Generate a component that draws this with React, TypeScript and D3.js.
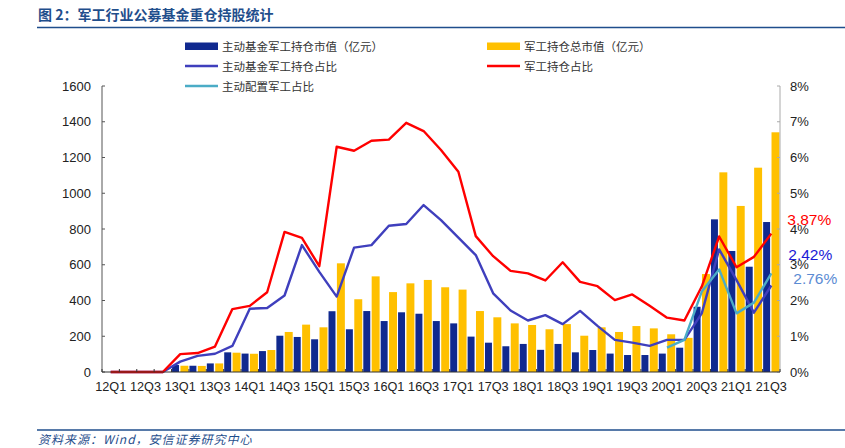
import React, { useEffect, useRef } from 'react';
import * as d3 from 'd3';

// 季度
const quarters = [
  '12Q1', '12Q2', '12Q3', '12Q4', '13Q1', '13Q2', '13Q3', '13Q4',
  '14Q1', '14Q2', '14Q3', '14Q4', '15Q1', '15Q2', '15Q3', '15Q4',
  '16Q1', '16Q2', '16Q3', '16Q4', '17Q1', '17Q2', '17Q3', '17Q4',
  '18Q1', '18Q2', '18Q3', '18Q4', '19Q1', '19Q2', '19Q3', '19Q4',
  '20Q1', '20Q2', '20Q3', '20Q4', '21Q1', '21Q2', '21Q3'
];

// 主动基金军工持仓市值（亿元）
const fundValue = [
  0, 0, 0, 0, 39, 35, 48, 110,
  103, 117, 203, 196, 183, 340, 239, 341,
  285, 334, 326, 285, 272, 198, 164, 144,
  157, 124, 157, 110, 123, 103, 95, 95,
  103, 136, 365, 854, 677, 589, 839
];

// 军工持仓总市值（亿元）
const totalValue = [
  0, 0, 0, 0, 35, 34, 48, 108,
  102, 123, 224, 265, 250, 608, 407, 535,
  447, 496, 515, 474, 461, 341, 306, 272,
  263, 239, 268, 203, 250, 224, 257, 244,
  211, 191, 548, 1117, 929, 1143, 1341
];

// 主动基金军工持仓占比（%）
const fundRatio = [
  0, 0, 0, 0, 0.29, 0.45, 0.51, 0.73,
  1.77, 1.79, 2.14, 3.55, 2.8, 2.11, 3.48, 3.55,
  4.09, 4.14, 4.67, 4.25, 3.76, 3.27, 2.2, 1.72,
  1.44, 1.59, 1.34, 1.71, 1.29, 0.9, 0.82, 0.73,
  0.9, 0.9, 1.64, 3.43, 2.57, 1.66, 2.42
];

// 军工持仓占比（%）
const totalRatio = [
  0, 0, 0, 0, 0.5, 0.53, 0.71, 1.76,
  1.85, 2.23, 3.92, 3.75, 2.96, 6.3, 6.19, 6.47,
  6.5, 6.97, 6.74, 6.21, 5.6, 3.8, 3.24, 2.83,
  2.76, 2.56, 3.07, 2.52, 2.4, 2.01, 2.17, 1.85,
  1.52, 1.44, 2.39, 3.79, 2.93, 3.22, 3.87
];

// 主动配置军工占比（%），20Q1 起
const activeRatio: (number | null)[] = [
  null, null, null, null, null, null, null, null,
  null, null, null, null, null, null, null, null,
  null, null, null, null, null, null, null, null,
  null, null, null, null, null, null, null, null,
  0.68, 0.9, 2.25, 2.87, 1.64, 1.94, 2.76
];

const xLabels = quarters.filter((_, i) => i % 2 === 0);
const leftTicks = [0, 200, 400, 600, 800, 1000, 1200, 1400, 1600];
const rightTicks = [0, 1, 2, 3, 4, 5, 6, 7, 8];

// 末端标注（相对最后一点的偏移）
const endLabels = [
  { text: '3.87%', value: 3.87, color: '#FF0000', dx: 16, dy: -9 },
  { text: '2.42%', value: 2.42, color: '#1A1AD6', dx: 17, dy: -25.5 },
  { text: '2.76%', value: 2.76, color: '#5B8BD3', dx: 22, dy: 11 }
];

const App: React.FC = () => {
  const svgRef = useRef<SVGSVGElement>(null);

  useEffect(() => {
    if (!svgRef.current) return;
    const svg = d3.select(svgRef.current);
    svg.selectAll('*').remove();

    const width = 845;
    const height = 448;
    const plot = { left: 102, right: 780, top: 86, bottom: 372 };
    const numFont = '"Liberation Sans", Arial, sans-serif';
    const cjkFont = '"Noto Sans CJK SC", sans-serif';

    svg.attr('width', width).attr('height', height);
    svg.append('rect').attr('width', width).attr('height', height).attr('fill', '#fff');

    // 标题
    svg.append('text')
      .attr('x', 38).attr('y', 20)
      .attr('font-family', cjkFont).attr('font-size', 14).attr('font-weight', 700)
      .attr('fill', '#1F4E8C')
      .text('图 2：军工行业公募基金重仓持股统计');
    svg.append('line')
      .attr('x1', 37).attr('x2', width).attr('y1', 27.5).attr('y2', 27.5)
      .attr('stroke', '#1F4E8C').attr('stroke-width', 1.5);

    // 比例尺
    const x = d3.scaleBand<string>().domain(quarters).range([plot.left, plot.right])
      .paddingInner(0.06).paddingOuter(0.03);
    const sub = d3.scaleBand<string>().domain(['fund', 'total']).range([0, x.bandwidth()]).paddingInner(0.05);
    const step = x.step();
    const cx = (i: number) => (x(quarters[i]) as number) + x.bandwidth() / 2;
    const yL = d3.scaleLinear().domain([0, 1600]).range([plot.bottom, plot.top]);
    const yR = d3.scaleLinear().domain([0, 8]).range([plot.bottom, plot.top]);

    // 柱子
    const g = svg.append('g');
    g.selectAll('.bar-fund')
      .data(fundValue)
      .enter().append('rect')
      .attr('x', (_, i) => (x(quarters[i]) as number) + (sub('fund') as number))
      .attr('width', sub.bandwidth() - 1)
      .attr('y', d => yL(d))
      .attr('height', d => plot.bottom - yL(d))
      .attr('fill', '#10298F');
    g.selectAll('.bar-total')
      .data(totalValue)
      .enter().append('rect')
      .attr('x', (_, i) => (x(quarters[i]) as number) + (sub('total') as number))
      .attr('width', sub.bandwidth())
      .attr('y', d => yL(d))
      .attr('height', d => plot.bottom - yL(d))
      .attr('fill', '#FFC000');

    // 折线
    const line = d3.line<number | null>()
      .defined(d => d != null)
      .x((_, i) => cx(i))
      .y(d => yR(d as number));
    const series = [
      { data: fundRatio, color: '#3F3FBD' },
      { data: totalRatio, color: '#FF0000' },
      { data: activeRatio, color: '#4BACC6' }
    ];
    series.forEach(s => {
      g.append('path')
        .attr('d', line(s.data) as string)
        .attr('fill', 'none')
        .attr('stroke', s.color)
        .attr('stroke-width', 2.4)
        .attr('stroke-linejoin', 'round');
    });

    // 坐标轴
    const axisG = svg.append('g');
    axisG.append('line')
      .attr('x1', plot.left).attr('x2', plot.left).attr('y1', plot.top).attr('y2', plot.bottom)
      .attr('stroke', '#555').attr('stroke-width', 1);
    axisG.selectAll('.lt').data(leftTicks).enter().append('line')
      .attr('x1', plot.left).attr('x2', plot.left + 3)
      .attr('y1', d => yL(d)).attr('y2', d => yL(d))
      .attr('stroke', '#555');
    axisG.selectAll('.ll').data(leftTicks).enter().append('text')
      .attr('x', 91).attr('y', d => yL(d) + 4.5)
      .attr('text-anchor', 'end')
      .attr('font-family', numFont).attr('font-size', 13).attr('fill', '#222')
      .text(d => String(d));

    axisG.append('line')
      .attr('x1', plot.right).attr('x2', plot.right).attr('y1', plot.top).attr('y2', plot.bottom)
      .attr('stroke', '#aaa').attr('stroke-width', 1);
    axisG.selectAll('.rt').data(rightTicks).enter().append('line')
      .attr('x1', plot.right - 3).attr('x2', plot.right)
      .attr('y1', d => yR(d)).attr('y2', d => yR(d))
      .attr('stroke', '#aaa');
    axisG.selectAll('.rl').data(rightTicks).enter().append('text')
      .attr('x', 790).attr('y', d => yR(d) + 4.5)
      .attr('font-family', numFont).attr('font-size', 13).attr('fill', '#222')
      .text(d => `${d}%`);

    axisG.append('line')
      .attr('x1', plot.left).attr('x2', plot.right).attr('y1', plot.bottom).attr('y2', plot.bottom)
      .attr('stroke', '#333').attr('stroke-width', 1.2);
    axisG.selectAll('.bt').data(d3.range(quarters.length + 1)).enter().append('line')
      .attr('x1', i => plot.left + i * step).attr('x2', i => plot.left + i * step)
      .attr('y1', plot.bottom).attr('y2', plot.bottom - 3)
      .attr('stroke', '#333');
    axisG.selectAll('.bl').data(xLabels).enter().append('text')
      .attr('x', d => (x(d) as number) + x.bandwidth() / 2)
      .attr('y', 391)
      .attr('text-anchor', 'middle')
      .attr('font-family', numFont).attr('font-size', 12.5).attr('fill', '#222')
      .attr('textLength', 31).attr('lengthAdjust', 'spacingAndGlyphs')
      .text(d => d);

    // 末端数值标注
    const last = quarters.length - 1;
    svg.selectAll('.end').data(endLabels).enter().append('text')
      .attr('x', d => cx(last) + d.dx)
      .attr('y', d => yR(d.value) + d.dy)
      .attr('font-family', numFont).attr('font-size', 15.5).attr('fill', d => d.color)
      .text(d => d.text);

    // 图例
    const legendItems = [
      { label: '主动基金军工持仓市值（亿元）', color: '#10298F', type: 'rect', x: 185, y: 46 },
      { label: '军工持仓总市值（亿元）', color: '#FFC000', type: 'rect', x: 487, y: 46 },
      { label: '主动基金军工持仓占比', color: '#3F3FBD', type: 'line', x: 185, y: 66 },
      { label: '军工持仓占比', color: '#FF0000', type: 'line', x: 487, y: 66 },
      { label: '主动配置军工占比', color: '#4BACC6', type: 'line', x: 185, y: 86 }
    ];
    const lg = svg.append('g');
    legendItems.forEach(item => {
      if (item.type === 'rect') {
        lg.append('rect').attr('x', item.x).attr('y', item.y - 3.5).attr('width', 33).attr('height', 7.5)
          .attr('fill', item.color);
      } else {
        lg.append('line').attr('x1', item.x).attr('x2', item.x + 33).attr('y1', item.y).attr('y2', item.y)
          .attr('stroke', item.color).attr('stroke-width', 2.4);
      }
      lg.append('text')
        .attr('x', item.x + 37).attr('y', item.y + 4.5)
        .attr('font-family', cjkFont).attr('font-size', 11.5).attr('fill', '#333')
        .text(item.label);
    });

    // 资料来源
    svg.append('line')
      .attr('x1', 37).attr('x2', width).attr('y1', 430).attr('y2', 430)
      .attr('stroke', '#1F4E8C').attr('stroke-width', 1.5);
    svg.append('text')
      .attr('x', 38).attr('y', 444)
      .attr('font-family', cjkFont).attr('font-size', 12).attr('font-style', 'italic')
      .attr('letter-spacing', 1)
      .attr('fill', '#1F4E8C')
      .text('资料来源：Wind，安信证券研究中心');
  }, []);

  return (
    <div>
      <style>{'body{margin:0}'}</style>
      <svg ref={svgRef} style={{ display: 'block' }}></svg>
    </div>
  );
};

export default App;
